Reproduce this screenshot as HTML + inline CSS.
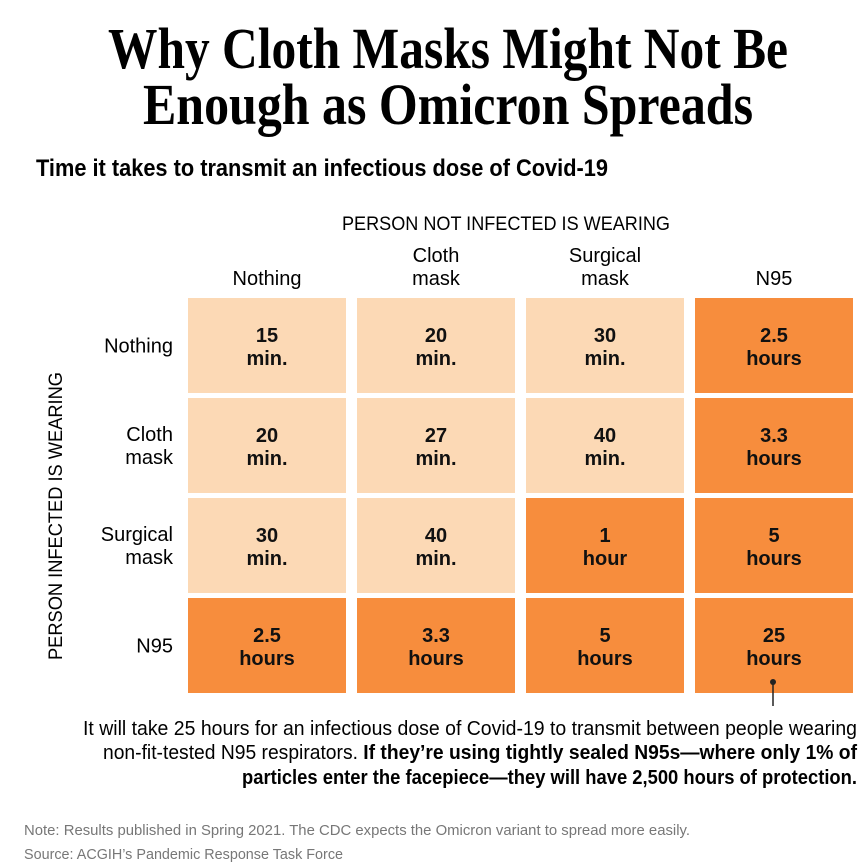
<!DOCTYPE html>
<html><head><meta charset="utf-8">
<style>
html,body{margin:0;padding:0;background:#fff;width:868px;height:868px;overflow:hidden}
svg{display:block}
text{font-family:"Liberation Sans",sans-serif}
</style></head>
<body>
<svg id="chart" width="868" height="868" viewBox="0 0 868 868">
<text x="448" y="68" text-anchor="middle" font-family="Liberation Serif,serif" font-weight="bold" font-size="58" textLength="680" lengthAdjust="spacingAndGlyphs" style="font-family:'Liberation Serif',serif">Why Cloth Masks Might Not Be</text>
<text x="448" y="124" text-anchor="middle" font-weight="bold" font-size="58" textLength="610" lengthAdjust="spacingAndGlyphs" style="font-family:'Liberation Serif',serif">Enough as Omicron Spreads</text>
<text x="36" y="176" font-weight="bold" font-size="24" textLength="572" lengthAdjust="spacingAndGlyphs">Time it takes to transmit an infectious dose of Covid-19</text>
<text x="506" y="230" text-anchor="middle" font-size="19" textLength="328" lengthAdjust="spacingAndGlyphs">PERSON NOT INFECTED IS WEARING</text>
<text transform="translate(62,516) rotate(-90)" text-anchor="middle" font-size="19" textLength="288" lengthAdjust="spacingAndGlyphs">PERSON INFECTED IS WEARING</text>
<g id="cols"></g><g id="rows"></g><g id="cells"></g>
<line x1="773" y1="680" x2="773" y2="706" stroke="#222" stroke-width="1.5"/>
<circle cx="773" cy="682" r="3" fill="#222"/>
<g font-size="20">
<text x="857" y="735" text-anchor="end" textLength="774" lengthAdjust="spacingAndGlyphs">It will take 25 hours for an infectious dose of Covid-19 to transmit between people wearing</text>
<text x="857" y="759" text-anchor="end" textLength="754" lengthAdjust="spacingAndGlyphs">non-fit-tested N95 respirators. <tspan font-weight="bold">If they’re using tightly sealed N95s—where only 1% of</tspan></text>
<text x="857" y="784" text-anchor="end" font-weight="bold" textLength="615" lengthAdjust="spacingAndGlyphs">particles enter the facepiece—they will have 2,500 hours of protection.</text>
</g>
<text x="24" y="835" font-size="15" fill="#777" textLength="666" lengthAdjust="spacingAndGlyphs">Note: Results published in Spring 2021. The CDC expects the Omicron variant to spread more easily.</text>
<text x="24" y="859" font-size="15" fill="#777" textLength="319" lengthAdjust="spacingAndGlyphs">Source: ACGIH’s Pandemic Response Task Force</text>
</svg>
<script>
const colLabels=[["Nothing"],["Cloth","mask"],["Surgical","mask"],["N95"]];
const rowLabels=[["Nothing"],["Cloth","mask"],["Surgical","mask"],["N95"]];
const values=[["15","20","30","2.5"],["20","27","40","3.3"],["30","40","1","5"],["2.5","3.3","5","25"]];
const units=[["min.","min.","min.","hours"],["min.","min.","min.","hours"],["min.","min.","hour","hours"],["hours","hours","hours","hours"]];
const NS="http://www.w3.org/2000/svg";
const x0=188,cw=158,cp=169,y0=298,ch=95,rp=100;
const xs=i=>x0+i*cp, ys=j=>y0+j*rp;
function t(p,x,y,s,o){const e=document.createElementNS(NS,"text");e.setAttribute("x",x);e.setAttribute("y",y);e.textContent=s;for(const k in o)e.setAttribute(k,o[k]);p.appendChild(e);return e;}
const cols=document.getElementById("cols"),rows=document.getElementById("rows"),cells=document.getElementById("cells");
colLabels.forEach((l,i)=>{const g=document.createElementNS(NS,"g");


cols.appendChild(g);const cx=xs(i)+cw/2;
l.forEach((s,k)=>t(g,cx,285-(l.length-1-k)*23,s,{"text-anchor":"middle","font-size":"20"}));});
rowLabels.forEach((l,j)=>{const g=document.createElementNS(NS,"g");


rows.appendChild(g);const cy=ys(j)+ch/2;
const top=cy+7-(l.length-1)*11.5;
l.forEach((s,k)=>t(g,173,top+k*23,s,{"text-anchor":"end","font-size":"20"}));});
values.forEach((r,j)=>r.forEach((v,i)=>{
const hours=units[j][i].indexOf("hour")===0;
const g=document.createElementNS(NS,"g");


cells.appendChild(g);
const rc=document.createElementNS(NS,"rect");
rc.setAttribute("x",xs(i));rc.setAttribute("y",ys(j));rc.setAttribute("width",cw);rc.setAttribute("height",ch);
rc.setAttribute("fill",hours?"#f78d3d":"#fcd9b5");g.appendChild(rc);
const cx=xs(i)+cw/2;
t(g,cx,ys(j)+44,v,{"text-anchor":"middle","font-size":"20","font-weight":"bold","fill":"#111"});
t(g,cx,ys(j)+67,units[j][i],{"text-anchor":"middle","font-size":"20","font-weight":"bold","fill":"#111"});
}));
</script>
</body></html>
